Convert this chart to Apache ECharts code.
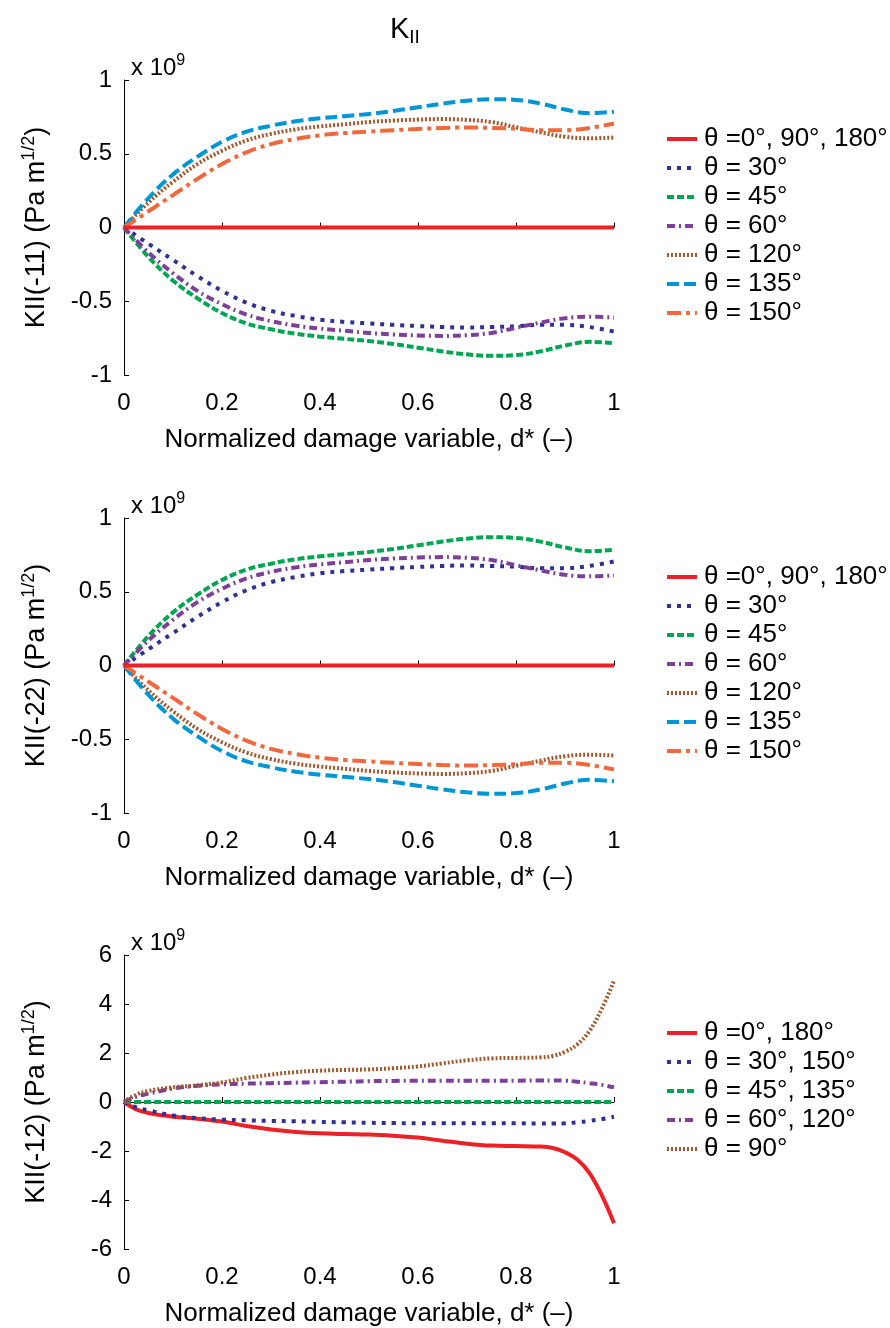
<!DOCTYPE html>
<html>
<head>
<meta charset="utf-8">
<script src="https://cdn.jsdelivr.net/npm/echarts@6/dist/echarts.min.js"></script>
<style>
html, body { margin: 0; background: #fff; }
#main { width: 890px; height: 1328px; }
</style>
</head>
<body>
<div id="main"></div>
<script>
// x positions (normalized damage variable)
var dx = [0, 0.05, 0.1, 0.15, 0.2, 0.25, 0.3, 0.35, 0.4, 0.45, 0.5, 0.55, 0.6, 0.65, 0.7, 0.75, 0.8, 0.85, 0.9, 0.95, 1];

// KII(-11) / KII(-22) curves, x 10^9
var upA = [0, 0.20, 0.36, 0.48, 0.58, 0.65, 0.69, 0.72, 0.74, 0.755, 0.77, 0.79, 0.815, 0.84, 0.86, 0.87, 0.865, 0.84, 0.80, 0.775, 0.785];
var upB = [0, 0.17, 0.31, 0.43, 0.52, 0.59, 0.635, 0.665, 0.685, 0.70, 0.715, 0.725, 0.732, 0.735, 0.73, 0.715, 0.68, 0.645, 0.615, 0.605, 0.61];
var upC = [0, 0.11, 0.22, 0.33, 0.43, 0.51, 0.565, 0.60, 0.625, 0.64, 0.65, 0.66, 0.668, 0.675, 0.678, 0.675, 0.67, 0.66, 0.66, 0.675, 0.705];
var dnA = [0, -0.20, -0.36, -0.48, -0.58, -0.65, -0.69, -0.72, -0.74, -0.755, -0.77, -0.79, -0.815, -0.84, -0.86, -0.87, -0.865, -0.84, -0.80, -0.775, -0.785];
var dnB = [0, -0.17, -0.31, -0.43, -0.52, -0.59, -0.635, -0.665, -0.685, -0.70, -0.715, -0.725, -0.732, -0.735, -0.73, -0.715, -0.68, -0.645, -0.615, -0.605, -0.61];
var dnC = [0, -0.11, -0.22, -0.33, -0.43, -0.51, -0.565, -0.60, -0.625, -0.64, -0.65, -0.66, -0.668, -0.675, -0.678, -0.675, -0.67, -0.66, -0.66, -0.675, -0.705];
var zero1 = [0, 0, 0, 0, 0, 0, 0, 0, 0, 0, 0, 0, 0, 0, 0, 0, 0, 0, 0, 0, 0];

// KII(-12) curves, x 10^9
var dx3 = [0, 0.025, 0.05, 0.1, 0.15, 0.2, 0.25, 0.3, 0.35, 0.4, 0.45, 0.5, 0.55, 0.6, 0.65, 0.7, 0.75, 0.8, 0.85, 0.875, 0.9, 0.925, 0.95, 0.975, 1];
var k0 = [0, -0.30, -0.45, -0.60, -0.68, -0.80, -0.98, -1.12, -1.22, -1.28, -1.31, -1.33, -1.38, -1.45, -1.58, -1.70, -1.78, -1.80, -1.82, -1.88, -2.05, -2.35, -2.90, -3.80, -4.95];
var k90 = [0, 0.30, 0.45, 0.60, 0.68, 0.80, 0.98, 1.12, 1.22, 1.28, 1.31, 1.33, 1.38, 1.45, 1.58, 1.70, 1.78, 1.80, 1.82, 1.88, 2.05, 2.35, 2.90, 3.80, 4.95];
var k60 = [0, 0.22, 0.34, 0.55, 0.66, 0.72, 0.75, 0.77, 0.79, 0.81, 0.83, 0.85, 0.86, 0.87, 0.87, 0.87, 0.87, 0.87, 0.88, 0.88, 0.87, 0.83, 0.77, 0.70, 0.60];
var k30 = [0, -0.22, -0.34, -0.55, -0.66, -0.72, -0.75, -0.77, -0.79, -0.81, -0.83, -0.85, -0.86, -0.87, -0.87, -0.87, -0.87, -0.87, -0.88, -0.88, -0.87, -0.83, -0.77, -0.70, -0.60];
var k45 = [0, 0, 0, 0, 0, 0, 0, 0, 0, 0, 0, 0, 0, 0, 0, 0, 0, 0, 0, 0, 0, 0, 0, 0, 0];

var names12 = ['θ =0°, 90°, 180°', 'θ = 30°', 'θ = 45°', 'θ = 60°', 'θ = 120°', 'θ = 135°', 'θ = 150°'];
var names3 = ['θ =0°, 180°', 'θ = 30°, 150°', 'θ = 45°, 135°', 'θ = 60°, 120°', 'θ = 90°'];

var FONT = 'Liberation Sans, Arial, sans-serif';

// line styles
var stSolid = { color: '#EC2027', type: 'solid', width: 4 };
var st30 = { color: '#2E3192', type: [4, 6], width: 4 };
var st45 = { color: '#00A651', type: [7, 3], width: 4 };
var st60 = { color: '#7E3F98', type: [8, 4, 2, 4], width: 4 };
var stDot = { color: '#A3572B', type: [2, 2], width: 4 };
var st135 = { color: '#0096D6', type: [12, 5], width: 4 };
var st150 = { color: '#F1683C', type: [14, 5, 4, 5], width: 4 };

function pairs(xs, ys) {
    return xs.map(function (x, i) { return [x, ys[i]]; });
}

function line(name, xs, ys, st, idx) {
    return {
        name: name,
        type: 'line',
        xAxisIndex: idx,
        yAxisIndex: idx,
        smooth: 0.4,
        symbol: 'none',
        animation: false,
        lineStyle: { color: st.color, type: st.type, width: st.width, cap: 'butt' },
        itemStyle: { color: st.color },
        data: pairs(xs, ys)
    };
}

var tops = [80, 518, 955];

function xAx(idx) {
    return {
        gridIndex: idx,
        type: 'value',
        min: 0, max: 1, interval: 0.2,
        name: 'Normalized damage variable, d* (–)',
        nameLocation: 'middle',
        nameGap: 52,
        nameTextStyle: { fontFamily: FONT, fontSize: 26, color: '#000' },
        axisLine: { lineStyle: { color: '#000', width: 1 } },
        axisTick: { inside: true, length: 5, lineStyle: { color: '#000' } },
        axisLabel: { fontFamily: FONT, fontSize: 24, color: '#000', margin: 16 },
        splitLine: { show: false }
    };
}

function yAx(idx, lab, mn, mx, step) {
    return {
        gridIndex: idx,
        type: 'value',
        min: mn, max: mx, interval: step,
        name: '{a|' + lab + ' (Pa m}{s|1/2}{a|)}',
        nameLocation: 'middle',
        nameRotate: 90,
        nameGap: 70,
        nameTextStyle: {
            rich: {
                a: { fontFamily: FONT, fontSize: 27, color: '#000', lineHeight: 34 },
                s: { fontFamily: FONT, fontSize: 18, color: '#000', verticalAlign: 'top', lineHeight: 20 }
            }
        },
        axisLine: { show: true, onZero: false, lineStyle: { color: '#000', width: 1 } },
        axisTick: { show: true, inside: true, length: 5, lineStyle: { color: '#000' } },
        axisLabel: { fontFamily: FONT, fontSize: 24, color: '#000', margin: 12 },
        splitLine: { show: false }
    };
}

function expTitle(top) {
    return {
        text: '{a|x 10}{s|9}',
        left: 126,
        top: top,
        textStyle: {
            rich: {
                a: { fontFamily: FONT, fontSize: 24, fontWeight: 'normal', color: '#000', lineHeight: 30 },
                s: { fontFamily: FONT, fontSize: 16, fontWeight: 'normal', color: '#000', verticalAlign: 'top', lineHeight: 18 }
            }
        }
    };
}

function legendAt(top, names) {
    return {
        data: names,
        orient: 'vertical',
        left: 660,
        top: top,
        itemWidth: 30,
        itemHeight: 14,
        itemGap: 3,
        selectedMode: false,
        itemStyle: { opacity: 0 },
        lineStyle: { width: 4 },
        textStyle: { fontFamily: FONT, fontSize: 26, color: '#000', padding: [0, 0, 0, 2] }
    };
}

var chart = echarts.init(document.getElementById('main'));

var option = {
    backgroundColor: '#fff',
    animation: false,
    title: [
        {
            text: '{k|K}{s|II}',
            left: 385,
            top: 8,
            textStyle: {
                rich: {
                    k: { fontFamily: 'Liberation Sans Narrow, ' + FONT, fontSize: 29, fontWeight: 'normal', color: '#000', lineHeight: 34 },
                    s: { fontFamily: 'Liberation Sans Narrow, ' + FONT, fontSize: 19, fontWeight: 'normal', color: '#000', verticalAlign: 'bottom', lineHeight: 20 }
                }
            }
        },
        expTitle(tops[0] - 32),
        expTitle(tops[1] - 32),
        expTitle(tops[2] - 32)
    ],
    legend: [
        legendAt(121, names12),
        legendAt(559, names12),
        legendAt(1015, names3)
    ],
    grid: [
        { left: 124, width: 490, top: tops[0], height: 295 },
        { left: 124, width: 490, top: tops[1], height: 295 },
        { left: 124, width: 490, top: tops[2], height: 295 }
    ],
    xAxis: [xAx(0), xAx(1), xAx(2)],
    yAxis: [
        yAx(0, 'KII(-11)', -1, 1, 0.5),
        yAx(1, 'KII(-22)', -1, 1, 0.5),
        yAx(2, 'KII(-12)', -6, 6, 2)
    ],
    series: [
        // KII(-11)
        line(names12[1], dx, dnC, st30, 0),
        line(names12[2], dx, dnA, st45, 0),
        line(names12[3], dx, dnB, st60, 0),
        line(names12[4], dx, upB, stDot, 0),
        line(names12[5], dx, upA, st135, 0),
        line(names12[6], dx, upC, st150, 0),
        line(names12[0], dx, zero1, stSolid, 0),
        // KII(-22)
        line(names12[1], dx, upC, st30, 1),
        line(names12[2], dx, upA, st45, 1),
        line(names12[3], dx, upB, st60, 1),
        line(names12[4], dx, dnB, stDot, 1),
        line(names12[5], dx, dnA, st135, 1),
        line(names12[6], dx, dnC, st150, 1),
        line(names12[0], dx, zero1, stSolid, 1),
        // KII(-12)
        line(names3[0], dx3, k0, stSolid, 2),
        line(names3[1], dx3, k30, st30, 2),
        line(names3[2], dx3, k45, st45, 2),
        line(names3[3], dx3, k60, st60, 2),
        line(names3[4], dx3, k90, stDot, 2)
    ]
};

chart.setOption(option);
</script>
</body>
</html>
